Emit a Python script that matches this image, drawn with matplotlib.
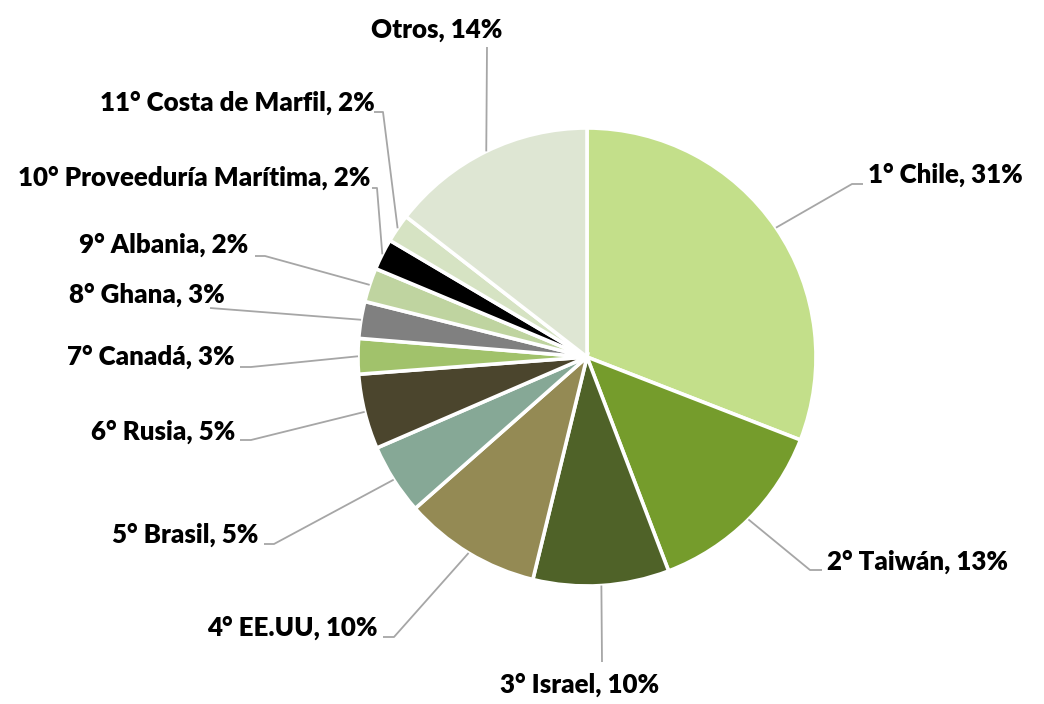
import numpy as np
import matplotlib
matplotlib.use("Agg")
import matplotlib.pyplot as plt

# data (clockwise from 12 o'clock)
paises = ["1° Chile", "2° Taiwán", "3° Israel", "4° EE.UU", "5° Brasil", "6° Rusia",
          "7° Canadá", "8° Ghana", "9° Albania", "10° Proveeduría Marítima",
          "11° Costa de Marfil", "Otros"]
valores = [30.9, 13.3, 9.6, 9.7, 5.0, 5.3, 2.5, 2.6, 2.4, 2.2, 2.0, 14.5]
etiquetas_pct = ["31%", "13%", "10%", "10%", "5%", "5%", "3%", "3%", "2%", "2%", "2%", "14%"]
colores = ["#C3DF8A", "#759C2C", "#4F6228", "#948A54", "#86A896", "#4B452D",
           "#A1C26B", "#808080", "#BFD4A0", "#000000", "#D6E3C3", "#DEE6D3"]

W, H = 1044, 704
CX, CY, R = 587, 357, 229   # pie centre / radius in pixels (top origin)


def px(x, y):
    return (x - CX) / R, (CY - y) / R


# label layout: text position, alignment, leader points after the rim (pixels)
layout = [
    ((868, 175), "left",   [(852, 184), (863, 184)]),
    ((827, 562), "left",   [(810, 570), (822, 570)]),
    ((580, 685), "center", [(602, 662)]),
    ((378, 628), "right",  [(394, 637), (383, 637)]),
    ((258, 535), "right",  [(274, 544), (264, 544)]),
    ((235, 432), "right",  [(251, 440), (240, 440)]),
    ((235, 357), "right",  [(251, 367), (240, 367)]),
    ((225, 295), "right",  [(210, 308)]),
    ((248, 245), "right",  [(265, 256), (255, 256)]),
    ((370, 178), "right",  [(377, 188), (372, 188)]),
    ((375, 103), "right",  [(383, 112), (374, 112)]),
    ((437, 30),  "center", [(487, 47)]),
]

fig = plt.figure(figsize=(W / 100, H / 100), dpi=100)
ax = fig.add_axes([0, 0, 1, 1])

wedges, _ = ax.pie(valores, colors=colores, startangle=90, counterclock=False,
                   radius=1.0, center=(0, 0), frame=True,
                   wedgeprops=dict(edgecolor="white", linewidth=2.6))
ax.set_xlim(-CX / R, (W - CX) / R)
ax.set_ylim((CY - H) / R, CY / R)
ax.set_aspect("equal")
ax.axis("off")

for w, nombre, pct, (tpos, ha, pts) in zip(wedges, paises, etiquetas_pct, layout):
    ang = np.deg2rad((w.theta1 + w.theta2) / 2)
    xs = [np.cos(ang)] + [px(*p)[0] for p in pts]
    ys = [np.sin(ang)] + [px(*p)[1] for p in pts]
    ax.plot(xs, ys, color="#A6A6A6", lw=1.3, solid_capstyle="butt", zorder=1)
    tx, ty = px(*tpos)
    ax.text(tx, ty, f"{nombre}, {pct}", ha=ha, va="center",
            fontsize=18.6, fontweight="heavy", family=["Lato", "DejaVu Sans"],
            color="black")

fig.savefig("out.png", dpi=100)
